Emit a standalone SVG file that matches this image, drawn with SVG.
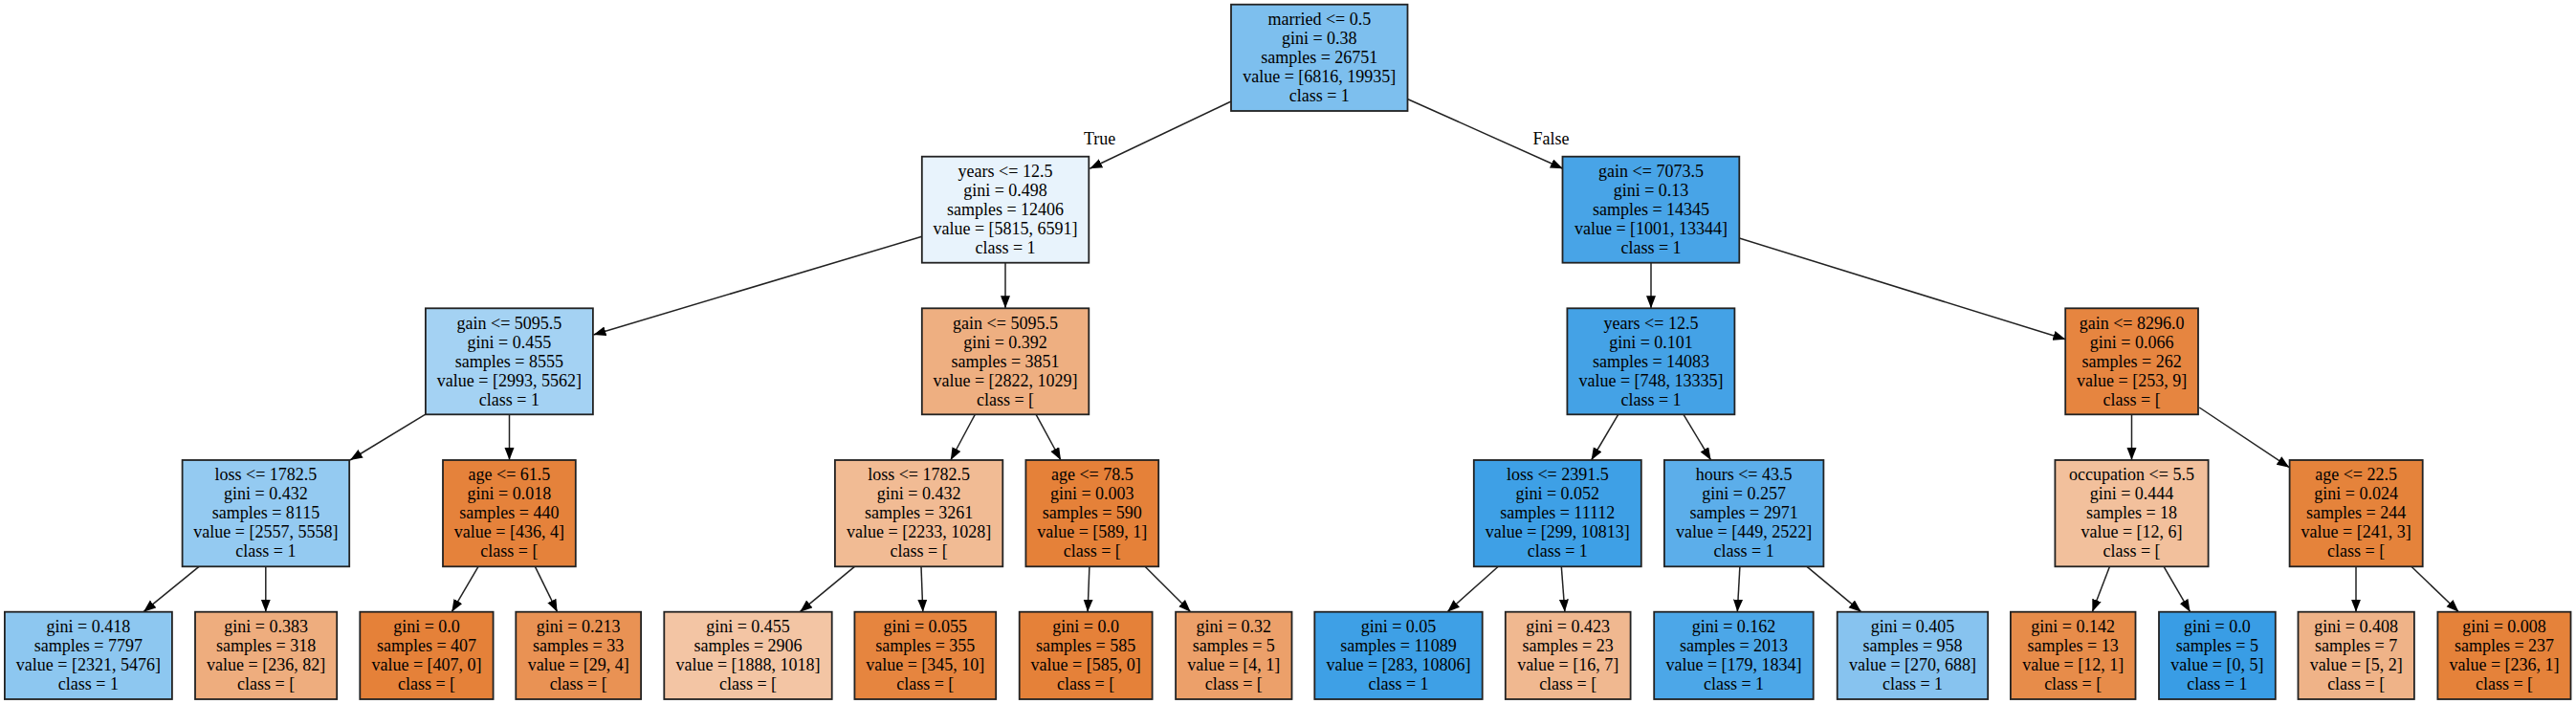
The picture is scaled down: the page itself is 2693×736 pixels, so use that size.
<svg xmlns="http://www.w3.org/2000/svg" width="2693" height="736" viewBox="0 0 2693 736">
<style>
.node rect{stroke:#222;stroke-width:1.8}
text{font-family:"Liberation Serif","Times New Roman",serif;font-size:18px;fill:#000;text-anchor:middle}
.edges line{stroke:#222;stroke-width:1.5;marker-end:url(#arr)}
</style>
<defs>
<marker id="arr" markerUnits="userSpaceOnUse" markerWidth="14" markerHeight="11" refX="13" refY="5" orient="auto">
<path d="M0,0 L13,5 L0,10 z" fill="#000"/>
</marker>
</defs>
<rect width="2693" height="736" fill="#fff"/>
<g class="edges">
<line x1="1287" y1="106" x2="1139.3" y2="176.3"/>
<line x1="1471.9" y1="103.7" x2="1633.9" y2="176.3"/>
<line x1="963.8" y1="247.3" x2="620.4" y2="350"/>
<line x1="1051" y1="274.7" x2="1051" y2="322.3"/>
<line x1="1726" y1="274.7" x2="1726" y2="322.3"/>
<line x1="1818.3" y1="249" x2="2159.4" y2="354.7"/>
<line x1="444.4" y1="433.3" x2="366" y2="481"/>
<line x1="532.5" y1="433.3" x2="532.5" y2="481"/>
<line x1="1019.3" y1="433.3" x2="993.8" y2="481"/>
<line x1="1083.1" y1="433.3" x2="1109" y2="481"/>
<line x1="1691.7" y1="433.3" x2="1663.6" y2="481"/>
<line x1="1760" y1="433.3" x2="1788.6" y2="481"/>
<line x1="2228.5" y1="433.3" x2="2228.5" y2="481"/>
<line x1="2299.2" y1="426" x2="2393.3" y2="488.7"/>
<line x1="208" y1="592.3" x2="150" y2="639.7"/>
<line x1="277.8" y1="592.3" x2="277.8" y2="639.7"/>
<line x1="500" y1="592.3" x2="472.3" y2="639.7"/>
<line x1="559.4" y1="592.3" x2="582.6" y2="639.7"/>
<line x1="893.4" y1="592.3" x2="836.3" y2="639.7"/>
<line x1="963" y1="592.3" x2="964.8" y2="639.7"/>
<line x1="1138.9" y1="592.3" x2="1137.1" y2="639.7"/>
<line x1="1197" y1="592.3" x2="1244.7" y2="639.7"/>
<line x1="1566.3" y1="592.3" x2="1513.1" y2="639.7"/>
<line x1="1632.3" y1="592.3" x2="1635.9" y2="639.7"/>
<line x1="1818.9" y1="592.3" x2="1816.3" y2="639.7"/>
<line x1="1889" y1="592.3" x2="1945.7" y2="639.7"/>
<line x1="2205.5" y1="592.3" x2="2187.3" y2="639.7"/>
<line x1="2262.1" y1="592.3" x2="2289.6" y2="639.7"/>
<line x1="2463" y1="592.3" x2="2463" y2="639.7"/>
<line x1="2520.9" y1="592.3" x2="2570.4" y2="639.7"/>
<text x="1149.6" y="150.5">True</text>
<text x="1621.4" y="150.5">False</text>
</g>

<g id="n0" class="node"><rect x="1287" y="4.7" width="184.5" height="111.3" fill="#7dbfee"/>
<text x="1379.3" y="26">married &lt;= 0.5</text><text x="1379.3" y="46">gini = 0.38</text><text x="1379.3" y="66">samples = 26751</text><text x="1379.3" y="86">value = [6816, 19935]</text><text x="1379.3" y="106">class = 1</text></g>

<g id="n1" class="node"><rect x="963.8" y="163.7" width="174.5" height="111" fill="#e8f3fc"/>
<text x="1051" y="185">years &lt;= 12.5</text><text x="1051" y="205">gini = 0.498</text><text x="1051" y="225">samples = 12406</text><text x="1051" y="245">value = [5815, 6591]</text><text x="1051" y="265">class = 1</text></g>

<g id="n16" class="node"><rect x="1633.5" y="163.7" width="184.8" height="111" fill="#48a4e7"/>
<text x="1726" y="185">gain &lt;= 7073.5</text><text x="1726" y="205">gini = 0.13</text><text x="1726" y="225">samples = 14345</text><text x="1726" y="245">value = [1001, 13344]</text><text x="1726" y="265">class = 1</text></g>

<g id="n2" class="node"><rect x="444.9" y="322.3" width="175" height="111" fill="#a4d2f3"/>
<text x="532.4" y="343.6">gain &lt;= 5095.5</text><text x="532.4" y="363.6">gini = 0.455</text><text x="532.4" y="383.6">samples = 8555</text><text x="532.4" y="403.6">value = [2993, 5562]</text><text x="532.4" y="423.6">class = 1</text></g>

<g id="n9" class="node"><rect x="963.8" y="322.3" width="174.5" height="111" fill="#eeaf81"/>
<text x="1051" y="343.6">gain &lt;= 5095.5</text><text x="1051" y="363.6">gini = 0.392</text><text x="1051" y="383.6">samples = 3851</text><text x="1051" y="403.6">value = [2822, 1029]</text><text x="1051" y="423.6">class = [</text></g>

<g id="n17" class="node"><rect x="1638.4" y="322.3" width="175" height="111" fill="#44a2e6"/>
<text x="1726" y="343.6">years &lt;= 12.5</text><text x="1726" y="363.6">gini = 0.101</text><text x="1726" y="383.6">samples = 14083</text><text x="1726" y="403.6">value = [748, 13335]</text><text x="1726" y="423.6">class = 1</text></g>

<g id="n24" class="node"><rect x="2159.2" y="322.3" width="138.8" height="111" fill="#e68540"/>
<text x="2228.6" y="343.6">gain &lt;= 8296.0</text><text x="2228.6" y="363.6">gini = 0.066</text><text x="2228.6" y="383.6">samples = 262</text><text x="2228.6" y="403.6">value = [253, 9]</text><text x="2228.6" y="423.6">class = [</text></g>

<g id="n3" class="node"><rect x="190.6" y="481" width="174.6" height="111.3" fill="#94caf1"/>
<text x="277.9" y="502.3">loss &lt;= 1782.5</text><text x="277.9" y="522.3">gini = 0.432</text><text x="277.9" y="542.3">samples = 8115</text><text x="277.9" y="562.3">value = [2557, 5558]</text><text x="277.9" y="582.3">class = 1</text></g>

<g id="n6" class="node"><rect x="463" y="481" width="138.8" height="111.3" fill="#e5823b"/>
<text x="532.4" y="502.3">age &lt;= 61.5</text><text x="532.4" y="522.3">gini = 0.018</text><text x="532.4" y="542.3">samples = 440</text><text x="532.4" y="562.3">value = [436, 4]</text><text x="532.4" y="582.3">class = [</text></g>

<g id="n10" class="node"><rect x="872.9" y="481" width="175.4" height="111.3" fill="#f1bb94"/>
<text x="960.6" y="502.3">loss &lt;= 1782.5</text><text x="960.6" y="522.3">gini = 0.432</text><text x="960.6" y="542.3">samples = 3261</text><text x="960.6" y="562.3">value = [2233, 1028]</text><text x="960.6" y="582.3">class = [</text></g>

<g id="n13" class="node"><rect x="1072.4" y="481" width="138.8" height="111.3" fill="#e58139"/>
<text x="1141.8" y="502.3">age &lt;= 78.5</text><text x="1141.8" y="522.3">gini = 0.003</text><text x="1141.8" y="542.3">samples = 590</text><text x="1141.8" y="562.3">value = [589, 1]</text><text x="1141.8" y="582.3">class = [</text></g>

<g id="n18" class="node"><rect x="1540.8" y="481" width="175" height="111.3" fill="#3ea0e6"/>
<text x="1628.3" y="502.3">loss &lt;= 2391.5</text><text x="1628.3" y="522.3">gini = 0.052</text><text x="1628.3" y="542.3">samples = 11112</text><text x="1628.3" y="562.3">value = [299, 10813]</text><text x="1628.3" y="582.3">class = 1</text></g>

<g id="n21" class="node"><rect x="1739.9" y="481" width="166.5" height="111.3" fill="#5caeea"/>
<text x="1823.1" y="502.3">hours &lt;= 43.5</text><text x="1823.1" y="522.3">gini = 0.257</text><text x="1823.1" y="542.3">samples = 2971</text><text x="1823.1" y="562.3">value = [449, 2522]</text><text x="1823.1" y="582.3">class = 1</text></g>

<g id="n25" class="node"><rect x="2148.4" y="481" width="160.2" height="111.3" fill="#f2c09c"/>
<text x="2228.5" y="502.3">occupation &lt;= 5.5</text><text x="2228.5" y="522.3">gini = 0.444</text><text x="2228.5" y="542.3">samples = 18</text><text x="2228.5" y="562.3">value = [12, 6]</text><text x="2228.5" y="582.3">class = [</text></g>

<g id="n28" class="node"><rect x="2393.6" y="481" width="139.1" height="111.3" fill="#e5833b"/>
<text x="2463.1" y="502.3">age &lt;= 22.5</text><text x="2463.1" y="522.3">gini = 0.024</text><text x="2463.1" y="542.3">samples = 244</text><text x="2463.1" y="562.3">value = [241, 3]</text><text x="2463.1" y="582.3">class = [</text></g>

<g id="n4" class="node"><rect x="4.9" y="639.7" width="175" height="91.3" fill="#8dc7f0"/>
<text x="92.4" y="661">gini = 0.418</text><text x="92.4" y="681">samples = 7797</text><text x="92.4" y="701">value = [2321, 5476]</text><text x="92.4" y="721">class = 1</text></g>

<g id="n5" class="node"><rect x="204" y="639.7" width="148.2" height="91.3" fill="#eead7e"/>
<text x="278.1" y="661">gini = 0.383</text><text x="278.1" y="681">samples = 318</text><text x="278.1" y="701">value = [236, 82]</text><text x="278.1" y="721">class = [</text></g>

<g id="n7" class="node"><rect x="376.3" y="639.7" width="139.3" height="91.3" fill="#e58139"/>
<text x="446" y="661">gini = 0.0</text><text x="446" y="681">samples = 407</text><text x="446" y="701">value = [407, 0]</text><text x="446" y="721">class = [</text></g>

<g id="n8" class="node"><rect x="539.3" y="639.7" width="130.8" height="91.3" fill="#e99254"/>
<text x="604.7" y="661">gini = 0.213</text><text x="604.7" y="681">samples = 33</text><text x="604.7" y="701">value = [29, 4]</text><text x="604.7" y="721">class = [</text></g>

<g id="n11" class="node"><rect x="694.3" y="639.7" width="175.4" height="91.3" fill="#f3c5a4"/>
<text x="782" y="661">gini = 0.455</text><text x="782" y="681">samples = 2906</text><text x="782" y="701">value = [1888, 1018]</text><text x="782" y="721">class = [</text></g>

<g id="n12" class="node"><rect x="893.4" y="639.7" width="147.8" height="91.3" fill="#e6853f"/>
<text x="967.3" y="661">gini = 0.055</text><text x="967.3" y="681">samples = 355</text><text x="967.3" y="701">value = [345, 10]</text><text x="967.3" y="721">class = [</text></g>

<g id="n14" class="node"><rect x="1065.7" y="639.7" width="138.9" height="91.3" fill="#e58139"/>
<text x="1135.1" y="661">gini = 0.0</text><text x="1135.1" y="681">samples = 585</text><text x="1135.1" y="701">value = [585, 0]</text><text x="1135.1" y="721">class = [</text></g>

<g id="n15" class="node"><rect x="1229.1" y="639.7" width="121.4" height="91.3" fill="#eca06a"/>
<text x="1289.8" y="661">gini = 0.32</text><text x="1289.8" y="681">samples = 5</text><text x="1289.8" y="701">value = [4, 1]</text><text x="1289.8" y="721">class = [</text></g>

<g id="n19" class="node"><rect x="1374.3" y="639.7" width="175.4" height="91.3" fill="#3ea0e6"/>
<text x="1462" y="661">gini = 0.05</text><text x="1462" y="681">samples = 11089</text><text x="1462" y="701">value = [283, 10806]</text><text x="1462" y="721">class = 1</text></g>

<g id="n20" class="node"><rect x="1573.8" y="639.7" width="130.8" height="91.3" fill="#f0b890"/>
<text x="1639.2" y="661">gini = 0.423</text><text x="1639.2" y="681">samples = 23</text><text x="1639.2" y="701">value = [16, 7]</text><text x="1639.2" y="721">class = [</text></g>

<g id="n22" class="node"><rect x="1729.2" y="639.7" width="166.5" height="91.3" fill="#4ca7e8"/>
<text x="1812.5" y="661">gini = 0.162</text><text x="1812.5" y="681">samples = 2013</text><text x="1812.5" y="701">value = [179, 1834]</text><text x="1812.5" y="721">class = 1</text></g>

<g id="n23" class="node"><rect x="1920.7" y="639.7" width="157.5" height="91.3" fill="#87c3ef"/>
<text x="1999.5" y="661">gini = 0.405</text><text x="1999.5" y="681">samples = 958</text><text x="1999.5" y="701">value = [270, 688]</text><text x="1999.5" y="721">class = 1</text></g>

<g id="n26" class="node"><rect x="2101.9" y="639.7" width="130.6" height="91.3" fill="#e78c4a"/>
<text x="2167.2" y="661">gini = 0.142</text><text x="2167.2" y="681">samples = 13</text><text x="2167.2" y="701">value = [12, 1]</text><text x="2167.2" y="721">class = [</text></g>

<g id="n27" class="node"><rect x="2257" y="639.7" width="121.8" height="91.3" fill="#399de5"/>
<text x="2317.9" y="661">gini = 0.0</text><text x="2317.9" y="681">samples = 5</text><text x="2317.9" y="701">value = [0, 5]</text><text x="2317.9" y="721">class = 1</text></g>

<g id="n29" class="node"><rect x="2402.5" y="639.7" width="121.4" height="91.3" fill="#efb388"/>
<text x="2463.2" y="661">gini = 0.408</text><text x="2463.2" y="681">samples = 7</text><text x="2463.2" y="701">value = [5, 2]</text><text x="2463.2" y="721">class = [</text></g>

<g id="n30" class="node"><rect x="2548.4" y="639.7" width="139.1" height="91.3" fill="#e5823a"/>
<text x="2618" y="661">gini = 0.008</text><text x="2618" y="681">samples = 237</text><text x="2618" y="701">value = [236, 1]</text><text x="2618" y="721">class = [</text></g>
</svg>
